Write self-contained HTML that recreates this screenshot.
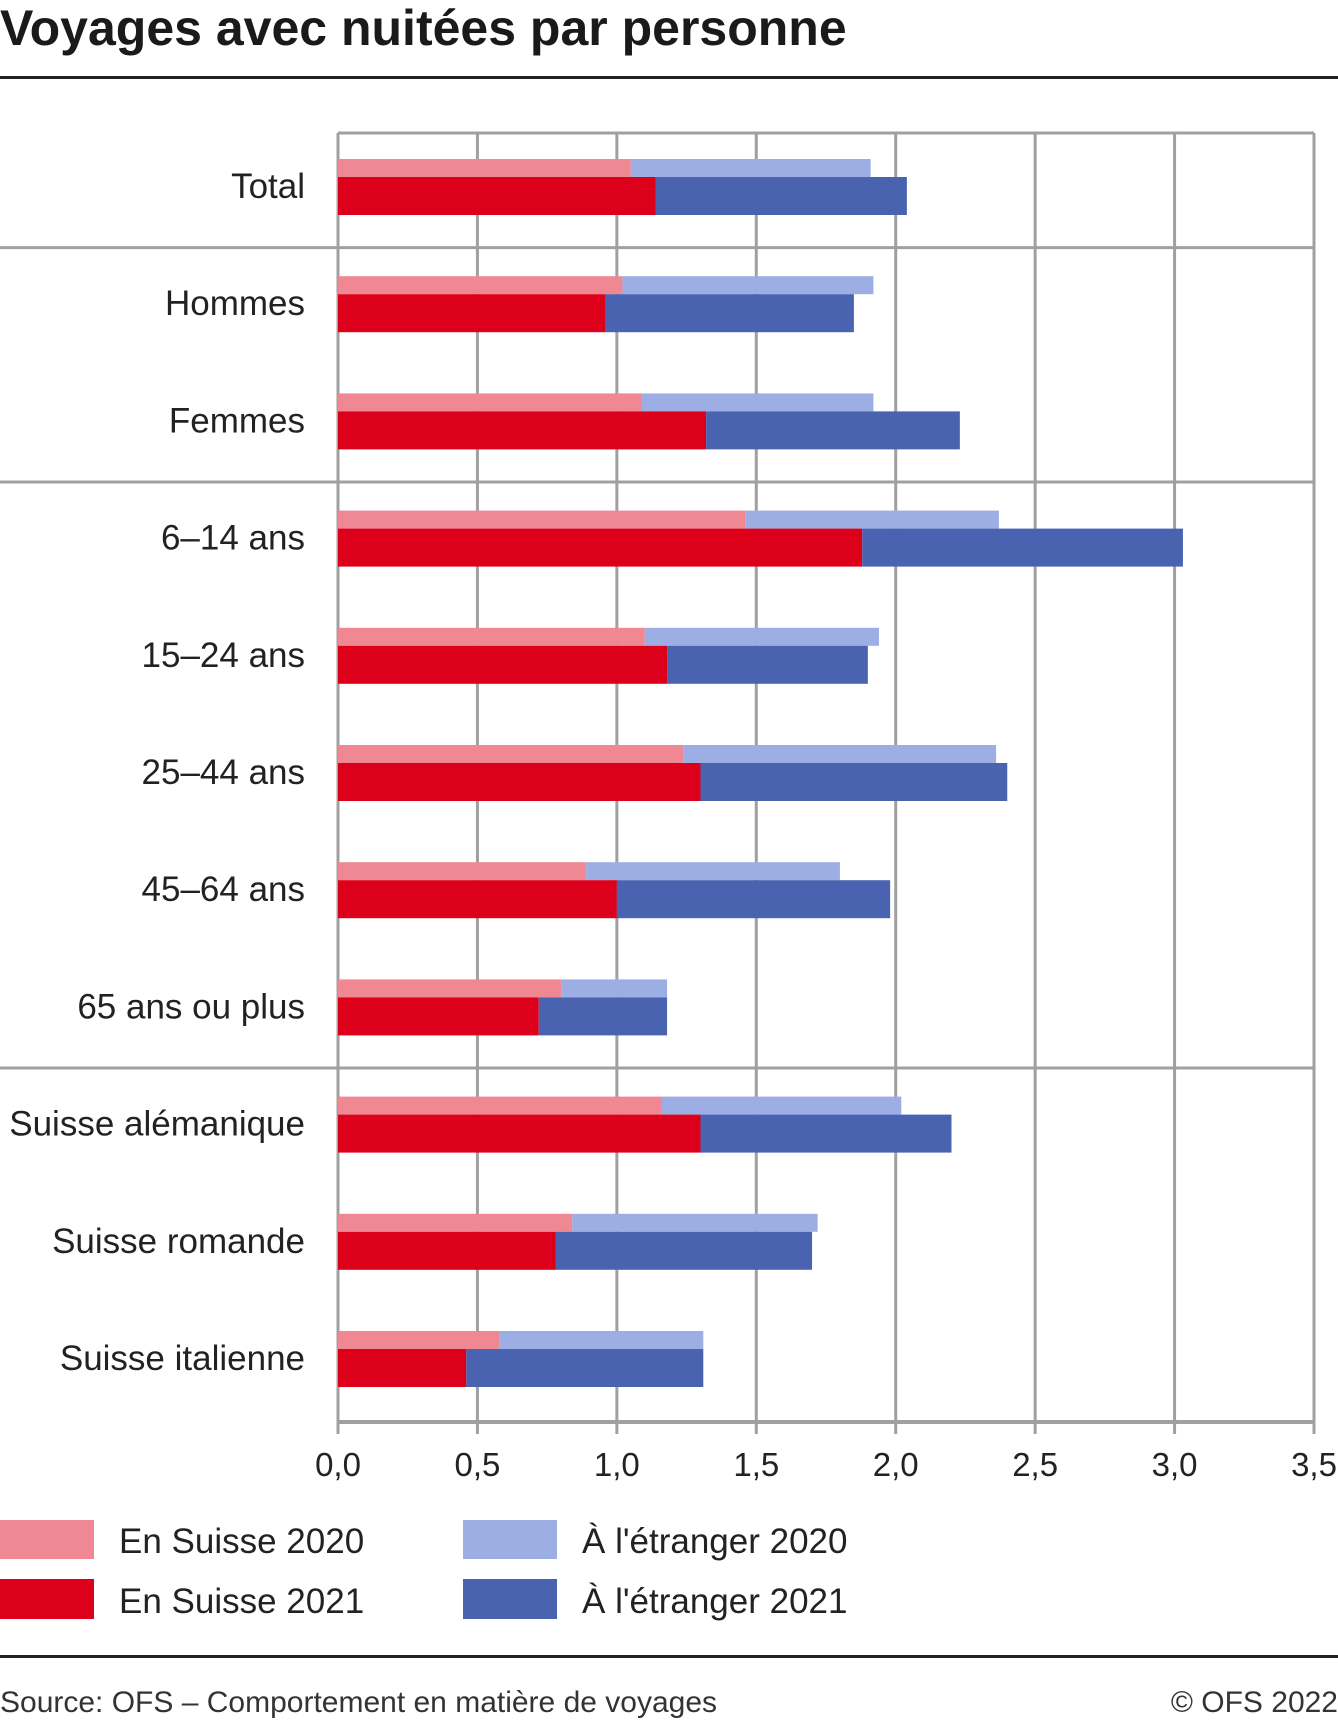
<!DOCTYPE html>
<html><head><meta charset="utf-8"><style>
html,body{margin:0;padding:0;background:#fff;}
svg{display:block;font-family:"Liberation Sans",sans-serif;}
</style></head><body>
<svg id="chart" width="1338" height="1721" viewBox="0 0 1338 1721">
<text x="0" y="45" font-size="50" font-weight="bold" fill="#1a1a1a">Voyages avec nuitées par personne</text>
<rect x="0" y="76" width="1338" height="3" fill="#222"/>
<g id="grid"></g>
<g id="bars"></g>
<g id="labels"></g>
<g>
<rect x="0" y="1520" width="94" height="39" fill="#ef8893"/>
<text x="119" y="1553" font-size="35" fill="#222">En Suisse 2020</text>
<rect x="0" y="1579" width="94" height="40" fill="#dc001b"/>
<text x="119" y="1613" font-size="35" fill="#222">En Suisse 2021</text>
<rect x="463" y="1520" width="94" height="39" fill="#9caee4"/>
<text x="582" y="1553" font-size="35" fill="#222">À l'étranger 2020</text>
<rect x="463" y="1579" width="94" height="40" fill="#4a63b1"/>
<text x="582" y="1613" font-size="35" fill="#222">À l'étranger 2021</text>
</g>
<rect x="0" y="1655" width="1338" height="3" fill="#222"/>
<text x="0" y="1712" font-size="30" fill="#333">Source: OFS – Comportement en matière de voyages</text>
<text x="1338" y="1712" font-size="30" fill="#333" text-anchor="end">© OFS 2022</text>
</svg>
<script>
const categories=["Total","Hommes","Femmes","6–14 ans","15–24 ans","25–44 ans","45–64 ans","65 ans ou plus","Suisse alémanique","Suisse romande","Suisse italienne"];
const suisse2020=[1.05,1.02,1.09,1.46,1.10,1.24,0.89,0.80,1.16,0.84,0.58];
const etranger2020=[0.86,0.90,0.83,0.91,0.84,1.12,0.91,0.38,0.86,0.88,0.73];
const suisse2021=[1.14,0.96,1.32,1.88,1.18,1.30,1.00,0.72,1.30,0.78,0.46];
const etranger2021=[0.90,0.89,0.91,1.15,0.72,1.10,0.98,0.46,0.90,0.92,0.85];
const tickValues=[0,0.5,1,1.5,2,2.5,3,3.5];
const tickLabels=["0,0","0,5","1,0","1,5","2,0","2,5","3,0","3,5"];
const groupBreaksAfter=[0,2,7];

const NS="http://www.w3.org/2000/svg";
const X0=338,X1=1314,MAXV=3.5,PT=133,PB=1422;
const xs=v=>X0+(v/MAXV)*(X1-X0);
const rowTop=i=>159+i*117.2;
function mk(tag,attrs,parent){const e=document.createElementNS(NS,tag);for(const k in attrs)e.setAttribute(k,attrs[k]);parent.appendChild(e);return e;}
const gridG=document.getElementById('grid'),barsG=document.getElementById('bars'),labelsG=document.getElementById('labels');
tickValues.forEach((v,i)=>{
  const l=mk('line',{x1:xs(v),x2:xs(v),y1:PT,y2:PB+12,stroke:'#a0a0a0','stroke-width':3},gridG);
  
  
  const t=mk('text',{x:xs(v),y:1476,'font-size':33,fill:'#222','text-anchor':'middle'},labelsG);
  t.textContent=tickLabels[i];
  
  
});
const topBorder=mk('line',{x1:X0,x2:X1,y1:PT,y2:PT,stroke:'#a0a0a0','stroke-width':3},gridG);


const xAxisLine=mk('line',{x1:X0,x2:X1,y1:PB,y2:PB,stroke:'#a0a0a0','stroke-width':4},gridG);


groupBreaksAfter.forEach(i=>{
  const y=(rowTop(i)+56+rowTop(i+1))/2+2;
  const s=mk('line',{x1:0,x2:X1,y1:y,y2:y,stroke:'#a0a0a0','stroke-width':3},gridG);
  
  
});
categories.forEach((c,i)=>{
  const y=rowTop(i);
  const a=suisse2020[i],b=etranger2020[i],c2=suisse2021[i],d=etranger2021[i];
  const r1=mk('rect',{x:xs(0),y:y,width:xs(a)-xs(0),height:18,fill:'#ef8893'},barsG);
  
  
  const r2=mk('rect',{x:xs(a),y:y,width:xs(a+b)-xs(a),height:18,fill:'#9caee4'},barsG);
  
  
  const r3=mk('rect',{x:xs(0),y:y+18,width:xs(c2)-xs(0),height:38,fill:'#dc001b'},barsG);
  
  
  const r4=mk('rect',{x:xs(c2),y:y+18,width:xs(c2+d)-xs(c2),height:38,fill:'#4a63b1'},barsG);
  
  
  const t=mk('text',{x:305,y:y+39,'font-size':35,fill:'#222','text-anchor':'end'},labelsG);
  t.textContent=c;
  
  
});
</script>
</body></html>
